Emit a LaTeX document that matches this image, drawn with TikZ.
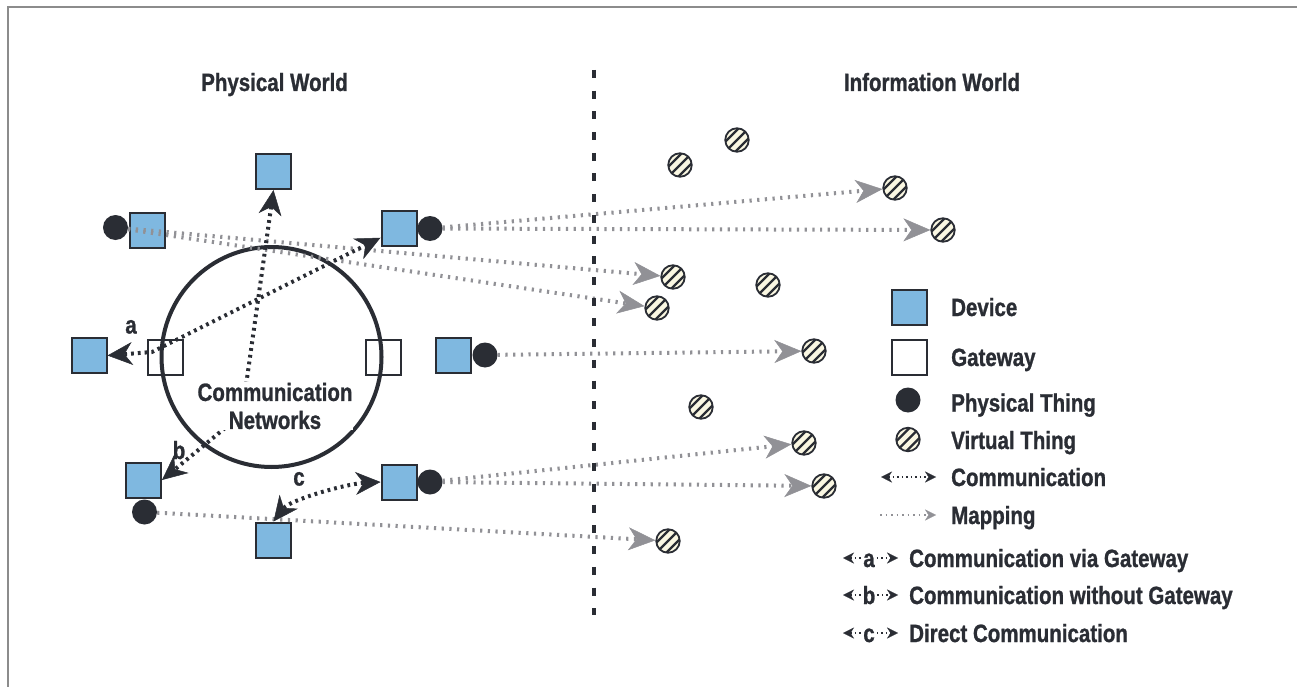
\documentclass[tikz,border=0pt]{standalone}
\usepackage{fontspec}
\usetikzlibrary{arrows.meta}
\newfontfamily\lab{Liberation Sans Bold}[FakeStretch=0.82, FakeBold=1]

\definecolor{ink}{RGB}{42,45,52}
\definecolor{devblue}{RGB}{127,184,224}
\definecolor{cream}{RGB}{250,247,226}
\definecolor{mapgray}{RGB}{145,145,150}
\definecolor{framegray}{RGB}{140,140,140}

\tikzset{
  txt/.style={font=\lab\fontsize{25}{29}\selectfont, text=ink, inner sep=0pt},
  device/.style={rectangle, draw=ink, line width=2pt, fill=devblue, minimum size=35pt, inner sep=0pt},
  gateway/.style={rectangle, draw=ink, line width=2pt, fill=none, minimum size=35pt, inner sep=0pt},
  physthing/.style={circle, fill=ink, minimum size=25pt, inner sep=0pt},
  virtthing/.style={circle, draw=ink, line width=1.8pt, fill=cream, minimum size=23.5pt, inner sep=0pt,
    path picture={
      \foreach \dx/\dy in {-5/5, 0/0, 5/-5}
        \draw[ink, line width=2.4pt]
          ([shift={({\dx pt-12pt},{\dy pt-12pt})}]path picture bounding box.center) -- ++(24pt,24pt);
    }},
  commtip/.tip={Stealth[length=25pt, width=23pt, inset=8pt, line width=0.5pt]},
  maptip/.tip={Stealth[length=27pt, width=23pt, inset=8pt, line width=0.5pt]},
  smalltip/.tip={Stealth[length=11pt, width=11pt, inset=3.5pt, line width=0.3pt]},
  comm/.style={draw=ink, line width=4pt, dash pattern=on 2.8pt off 4pt},
  map/.style={draw=mapgray, line width=4pt, dash pattern=on 2.2pt off 5.5pt, -maptip},
  legcomm/.style={draw=ink, line width=2pt, dash pattern=on 1.5pt off 3pt},
  legmap/.style={draw=mapgray, line width=2pt, dash pattern=on 1.5pt off 4pt},
}

\begin{document}
\begin{tikzpicture}[x=1pt, y=-1pt]
\useasboundingbox (0,0) rectangle (1297,687);
\fill[white] (0,0) rectangle (1297,687);

% frame edges
\draw[framegray, line width=2.5pt] (8,687) -- (8,7) -- (1297,7);

% titles
\node[txt, anchor=base] (tphys) at (274.5,91) {Physical World};
\node[txt, anchor=base] (tinfo) at (932,91) {Information World};

% boundary between the two worlds
\coordinate (sepT) at (594,70);
\coordinate (sepB) at (594,615);

% physical side: devices, gateways, things
\node[device] (dtop) at (273.5,171.5) {};
\node[device] (dtl) at (147.5,230) {};
\node[physthing] (ptl) at (115.5,227.5) {};
\node[device] (dtr) at (399,228.5) {};
\node[physthing] (ptr) at (430,228.5) {};
\node[gateway] (gwl) at (165,357) {};
\node[gateway] (gwr) at (383.5,357) {};
\node[device] (dl) at (89,355.5) {};
\node[device] (dm) at (453.5,355) {};
\node[physthing] (ptm) at (485,355) {};
\node[device] (db) at (143.5,480) {};
\node[physthing] (ptb) at (144.5,512) {};
\node[device] (dc2) at (273.5,540) {};
\node[device] (dc1) at (399,482) {};
\node[physthing] (ptc) at (430,482) {};

% communication network ring
\node[circle, draw=ink, line width=4pt, minimum size=220pt, inner sep=0pt] (net) at (271.5,357) {};

% information side: virtual things
\node[virtthing] (v1) at (680,165) {};
\node[virtthing] (v2) at (737,140) {};
\node[virtthing] (v3) at (895,188) {};
\node[virtthing] (v4) at (943,230) {};
\node[virtthing] (v5) at (673,277) {};
\node[virtthing] (v6) at (768,285) {};
\node[virtthing] (v7) at (657,308) {};
\node[virtthing] (v8) at (814,351) {};
\node[virtthing] (v9) at (701,407) {};
\node[virtthing] (v10) at (804,443) {};
\node[virtthing] (v11) at (824,486) {};
\node[virtthing] (v12) at (668,541) {};

% mappings from physical to virtual things
\draw[map] (ptr) -- (v3);
\draw[map] (ptr) -- (v4);
\draw[map] (ptl) -- (v5);
\draw[map] (ptl) -- (v7);
\draw[map] (ptm) -- (v8);
\draw[map] (ptc) -- (v10);
\draw[map] (ptc) -- (v11);
\draw[map] (ptb) -- (v12);

\draw[ink, line width=4.5pt, dash pattern=on 8pt off 12.7pt] (sepT) -- (sepB);

% communication links
\coordinate (ga) at (152,352);
\coordinate (nb) at (242,414);
\draw[comm, commtip-commtip] (dl.east) -- (ga) -- (dtr);
\draw[comm, commtip-commtip] (dtop.south) -- (nb) -- (db.east);
\draw[comm, commtip-commtip] (dc2.north) .. controls (290,500) and (345,484) .. (dc1.west);

\node[txt, align=center, fill=white, inner sep=1pt] (netlabel) at (275,406)
  {Communication\\[-1pt]Networks};

\node[txt, anchor=base] (la) at (131,333.5) {a};
\node[txt, anchor=base] (lb) at (179,459) {b};
\node[txt, anchor=base] (lc) at (299,485.5) {c};

% legend
\node[device] (lgdev) at (909,307.5) {};
\node[gateway, fill=white] (lggw) at (909,357) {};
\node[physthing] (lgpt) at (908,400) {};
\node[virtthing] (lgvt) at (908,439.5) {};
\coordinate (lc1) at (881,477);
\coordinate (lc2) at (936,477);
\draw[legcomm, smalltip-smalltip] (lc1) -- (lc2);
\coordinate (lm1) at (880,515);
\coordinate (lm2) at (936,515);
\draw[legmap, -{Stealth[length=11pt, width=11pt, inset=3.5pt, line width=0.3pt, color=mapgray]}] (lm1) -- (lm2);

\node[txt, anchor=base west] (tdev) at (951,316) {Device};
\node[txt, anchor=base west] (tgw) at (951,366) {Gateway};
\node[txt, anchor=base west] (tpt) at (951,411.5) {Physical Thing};
\node[txt, anchor=base west] (tvt) at (951,449) {Virtual Thing};
\node[txt, anchor=base west] (tcomm) at (951,486) {Communication};
\node[txt, anchor=base west] (tmap) at (951,524) {Mapping};

\node[txt, anchor=base] (kya) at (869,567) {a};
\node[txt, anchor=base] (kyb) at (869,604) {b};
\node[txt, anchor=base] (kyc) at (869,642) {c};
\coordinate (ka1) at (843,558);
\coordinate (ka2) at (898,558);
\coordinate (kb1) at (843,595);
\coordinate (kb2) at (898,595);
\coordinate (kc1) at (843,633);
\coordinate (kc2) at (898,633);
\draw[legcomm, smalltip-] (ka1) -- ([xshift=-2pt]ka1 -| kya.west);
\draw[legcomm, -smalltip] ([xshift=2pt]ka2 -| kya.east) -- (ka2);
\draw[legcomm, smalltip-] (kb1) -- ([xshift=-2pt]kb1 -| kyb.west);
\draw[legcomm, -smalltip] ([xshift=2pt]kb2 -| kyb.east) -- (kb2);
\draw[legcomm, smalltip-] (kc1) -- ([xshift=-2pt]kc1 -| kyc.west);
\draw[legcomm, -smalltip] ([xshift=2pt]kc2 -| kyc.east) -- (kc2);

\node[txt, anchor=base west] (tka) at (909,567) {Communication via Gateway};
\node[txt, anchor=base west] (tkb) at (909,604) {Communication without Gateway};
\node[txt, anchor=base west] (tkc) at (909,642) {Direct Communication};
\end{tikzpicture}
\end{document}
